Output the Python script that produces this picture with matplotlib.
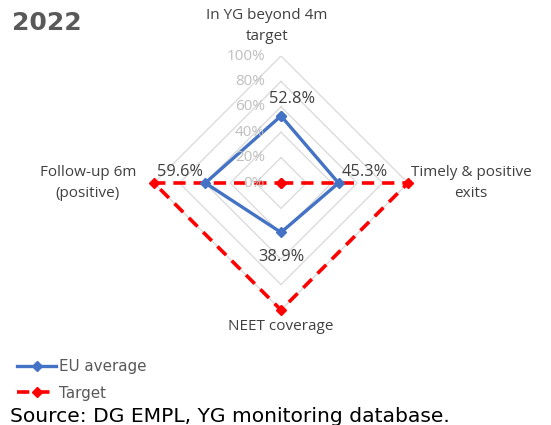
import numpy as np
import matplotlib
matplotlib.use("Agg")
import matplotlib.pyplot as plt

categories = ["In YG beyond 4m\ntarget", "Timely & positive\nexits", "NEET coverage", "Follow-up 6m\n(positive)"]
eu_average = [52.8, 45.3, 38.9, 59.6]
target = [0, 100, 100, 100]
grid_levels = [0, 20, 40, 60, 80, 100]
tick_labels = ["0%", "20%", "40%", "60%", "80%", "100%"]

fig = plt.figure(figsize=(5.51, 4.25), dpi=100)
ax = fig.add_axes([154/551, 1-310/425, 254/551, 254/425], projection="polar")
ax.set_theta_offset(np.pi/2)
ax.set_theta_direction(-1)
ax.set_ylim(0, 100)
ax.grid(False)
ax.spines["polar"].set_visible(False)
ax.set_xticks([])
ax.set_yticks([])
ax.patch.set_alpha(0)

n = len(categories)
angles = np.arange(n) * 2*np.pi/n
ang_c = np.append(angles, angles[0])

for g in grid_levels[1:]:
    ax.plot(ang_c, [g]*(n+1), color="#d9d9d9", lw=0.9, zorder=1)

tgt = np.append(target, target[0])
l2, = ax.plot(ang_c, tgt, color="#ff0000", lw=2.6, ls=(0, (3.4, 2.2)), marker="D", ms=5,
              zorder=3, clip_on=False, label="Target")
eu = np.append(eu_average, eu_average[0])
l1, = ax.plot(ang_c, eu, color="#4472c4", lw=2.4, marker="D", ms=5, zorder=4,
              clip_on=False, label="EU average")

inv = fig.transFigure.inverted()

# radial tick labels
for g, t in zip(grid_levels, tick_labels):
    x, y = ax.transData.transform((0, g))
    xf, yf = inv.transform((x - 16, y))
    fig.text(xf, yf, t, ha="right", va="center", fontsize=11, color="#bfbfbf",
             family="Open Sans", zorder=2)

# data labels
offsets = [(11, 17), (26, 11), (0, -25), (-25, 11)]
for a, v, (dx, dy) in zip(angles, eu_average, offsets):
    x, y = ax.transData.transform((a, v))
    xf, yf = inv.transform((x + dx, y + dy))
    fig.text(xf, yf, f"{v:.1f}%", ha="center", va="center", fontsize=11.8,
             color="#404040", family="Open Sans")

# category labels
cat_pos = [(267, 26), (471, 183), (281, 327), (88, 183)]
for c, (px, py) in zip(categories, cat_pos):
    fig.text(px/551, 1-py/425, c, ha="center", va="center", fontsize=11,
             color="#404040", family="Open Sans", linespacing=1.5)

fig.text(12/551, 1-23/425, "2022", ha="left", va="center", fontsize=18,
         fontweight="bold", color="#595959", family="DejaVu Sans")

leg = fig.legend(handles=[l1, l2], loc="center left", bbox_to_anchor=(17/551, 1-380/425),
                 frameon=False, fontsize=10.9, handlelength=2.6, handletextpad=0.2,
                 labelspacing=0.75, borderaxespad=0, borderpad=0)
for t in leg.get_texts():
    t.set_color("#595959")

fig.text(10/551, 1-416/425, "Source: DG EMPL, YG monitoring database.", ha="left",
         va="center", fontsize=14.6, color="black", family="DejaVu Sans")

fig.savefig("out.png", dpi=100)
